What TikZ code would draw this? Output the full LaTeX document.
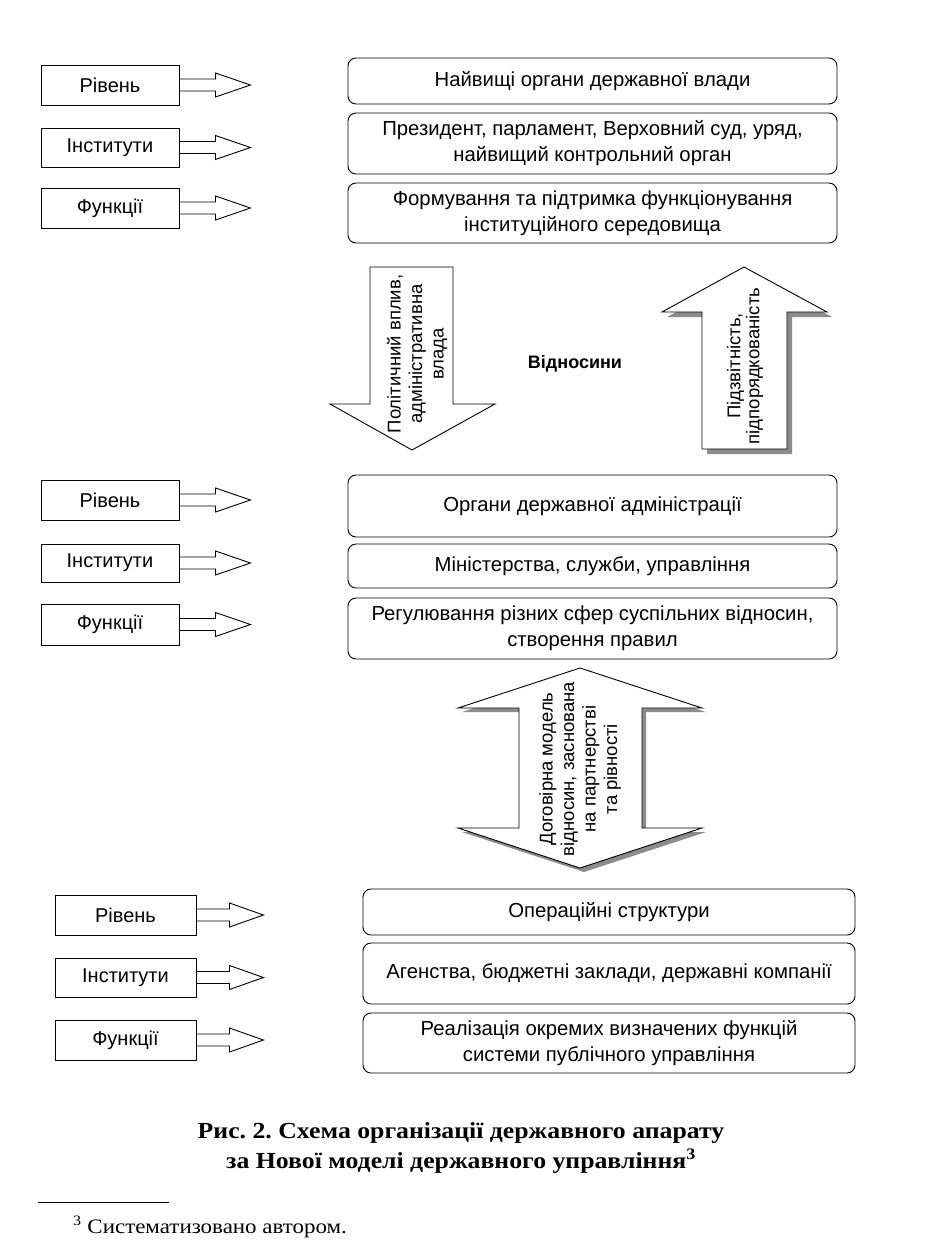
\documentclass[tikz,border=0pt]{standalone}
\usepackage{fontspec}
\setmainfont{Liberation Sans}
\newfontfamily\capfont[FakeStretch=1.12]{Liberation Serif}
\usetikzlibrary{calc}
\newcommand{\sidearrow}[3]{%
  \draw[barrow] ($(#1.east)+(0,-6)$) -- ++(#2,0) -- ++(0,-6) -- ++(#3,12) -- ++(-#3,12) -- ++(0,-6) -- ++(-#2,0);}
\frenchspacing
\begin{document}
\begin{tikzpicture}[x=1pt,y=-1pt,
  lbox/.style={draw, line width=0.9pt, minimum width=138pt, minimum height=40pt, inner sep=0pt, font=\fontsize{20}{22}\selectfont},
  rbox/.style={draw, rounded corners=8pt, line width=0.9pt, minimum width=489pt, align=center, inner sep=0pt, font=\fontsize{20.3}{26}\selectfont},
  barrow/.style={draw, line width=0.9pt},
  bigarrow/.style={draw, fill=white, line width=0.9pt},
  shade/.style={fill=black!45},
  vtext/.style={rotate=90, align=center, inner sep=0pt, font=\fontsize{18.5}{21.5}\selectfont}]
\useasboundingbox (0,0) rectangle (926,1254);
% ---------- top level ----------
\node[lbox] (t1) at (110,85) {Рівень};
\node[lbox, minimum height=39pt] (t2) at (110,147.5) {Інститути};
\node[lbox] (t3) at (110,208) {Функції};
\sidearrow{t1}{36}{35}
\sidearrow{t2}{36}{35}
\sidearrow{t3}{36}{35}
\node[rbox, minimum height=46pt] (tr1) at (592.5,81) {Найвищі органи державної влади};
\node[rbox, minimum height=61pt] (tr2) at (592.5,143.5) {Президент, парламент, Верховний суд, уряд,\\найвищий контрольний орган};
\node[rbox, minimum height=60pt] (tr3) at (592.5,213) {Формування та підтримка функціонування\\інституційного середовища};
% ---------- relations ----------
\draw[bigarrow] (370,267) -- (453,267) -- (453,404) -- (495,404) -- (412,450) -- (330,404) -- (370,404) -- cycle;
\node[vtext] (down) at (417,354) {Політичний вплив,\\адміністративна\\влада};
\fill[shade] (707,454) -- (792,454) -- (792,317) -- (832,317) -- (749,272) -- (667,317) -- (707,317) -- cycle;
\draw[bigarrow] (702,449) -- (787,449) -- (787,312) -- (827,312) -- (744,267) -- (662,312) -- (702,312) -- cycle;
\node[vtext, font=\fontsize{18.5}{19}\selectfont] (up) at (745,366) {Підзвітність,\\підпорядкованість};
\node[font=\fontsize{18}{21}\selectfont\bfseries] (rel) at (575,364) {Відносини};
% ---------- middle level ----------
\node[lbox] (m1) at (110,500) {Рівень};
\node[lbox, minimum height=38pt] (m2) at (110,563) {Інститути};
\node[lbox, minimum height=41pt] (m3) at (110,624.5) {Функції};
\sidearrow{m1}{36}{35}
\sidearrow{m2}{36}{35}
\sidearrow{m3}{36}{35}
\node[rbox, minimum height=62pt] (mr1) at (592.5,506) {Органи державної адміністрації};
\node[rbox, minimum height=44pt] (mr2) at (592.5,566) {Міністерства, служби, управління};
\node[rbox, minimum height=61pt] (mr3) at (592.5,628.5) {Регулювання різних сфер суспільних відносин,\\створення правил};
% ---------- double arrow ----------
\fill[shade] (523,712) -- (462,712) -- (584,672) -- (706,712) -- (646,712) -- (646,832) -- (706,832) -- (584,872) -- (462,832) -- (523,832) -- cycle;
\draw[bigarrow] (519,708) -- (458,708) -- (580,668) -- (702,708) -- (642,708) -- (642,828) -- (702,828) -- (580,868) -- (458,828) -- (519,828) -- cycle;
\node[vtext] (both) at (580,769) {Договірна модель\\відносин, заснована\\на партнерстві\\та рівності};
% ---------- bottom level ----------
\node[lbox, minimum width=141pt] (b1) at (125.5,915) {Рівень};
\node[lbox, minimum width=141pt, minimum height=39pt] (b2) at (125.5,977.5) {Інститути};
\node[lbox, minimum width=141pt] (b3) at (125.5,1040) {Функції};
\sidearrow{b1}{33}{34}
\sidearrow{b2}{33}{34}
\sidearrow{b3}{33}{34}
\node[rbox, minimum width=492pt, minimum height=46pt] (br1) at (609,912) {Операційні структури};
\node[rbox, minimum width=492pt, minimum height=61pt] (br2) at (609,973.5) {Агенства, бюджетні заклади, державні компанії};
\node[rbox, minimum width=492pt, minimum height=60pt] (br3) at (609,1043) {Реалізація окремих визначених функцій\\системи публічного управління};
% ---------- caption ----------
\node[align=center, inner sep=0pt, font=\capfont\bfseries\fontsize{23}{30}\selectfont] (cap) at (461,1148) {Рис. 2. Схема організації державного апарату\\за Нової моделі державного управління\textsuperscript{3}};
\coordinate (fa) at (38,1202);
\coordinate (fb) at (169,1202);
\draw[line width=0.8pt] (fa) -- (fb);
\node[anchor=west, inner sep=0pt, font=\capfont\fontsize{20.5}{22}\selectfont] (foot) at (73,1227) {\textsuperscript{3} Систематизовано автором.};
\end{tikzpicture}
\end{document}
